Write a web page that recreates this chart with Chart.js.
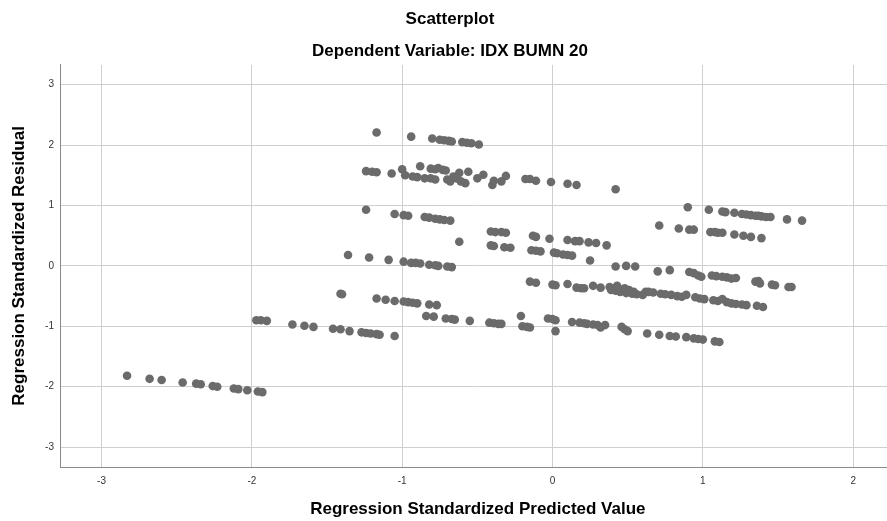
<!DOCTYPE html>
<html>
<head>
<meta charset="utf-8">
<script src="https://cdn.jsdelivr.net/npm/chart.js@4.4.1/dist/chart.umd.min.js"></script>
<style>
    html, body { margin: 0; padding: 0; background: #fff; overflow: hidden; }
    canvas { display: block; }
</style>
</head>
<body>
<canvas id="scatterChart" width="900" height="521"></canvas>
<script>
const chartTitle = 'Scatterplot';
const chartSubtitle = 'Dependent Variable: IDX BUMN 20';
const xTitle = 'Regression Standardized Predicted Value';
const yTitle = 'Regression Standardized Residual';

const xTicks = [-3, -2, -1, 0, 1, 2];
const yTicks = [-3, -2, -1, 0, 1, 2, 3];

// regression standardized predicted value (x) for each case
const predicted = [
    -2.83, -2.68, -2.60, -2.46, -2.37, -2.34, -2.26, -2.23, -2.12, -2.09, -2.03, -1.96, -1.93,
    -1.97, -1.94, -1.90, -1.73, -1.65, -1.59, -1.46, -1.41, -1.35, -1.27, -1.24, -1.21, -1.17, -1.15, -1.05,
    -1.41, -1.40, -1.17, -1.11, -1.05, -0.99, -0.96, -0.93, -0.90, -0.82, -0.77,
    -0.84, -0.79, -0.71, -0.67, -0.65, -0.55, -0.42, -0.39, -0.36, -0.34, -0.21, -0.20, -0.17, -0.15,
    -0.03, 0.00, 0.02, 0.02, 0.13, 0.18, 0.21, 0.23, 0.27, 0.30, 0.32, 0.35, 0.46, 0.48, 0.50,
    0.63, 0.71, 0.78, 0.82, 0.89, 0.94, 0.97, 1.00, 1.08, 1.11,
    -1.36, -1.22, -1.09, -0.99, -0.94, -0.91, -0.88, -0.82, -0.78, -0.76, -0.70, -0.67,
    -1.24, -1.05, -0.99, -0.96, -0.85, -0.82, -0.78, -0.75, -0.72, -0.68,
    -0.62, -0.41, -0.38, -0.34, -0.31, -0.13, -0.11, -0.02, 0.10, 0.15, 0.18, 0.24, 0.29, 0.36,
    -0.41, -0.39, -0.32, -0.28, -0.14, -0.11, -0.08, 0.01, 0.03, 0.07, 0.10, 0.13, 0.25, 0.42, 0.49, 0.55,
    0.70, 0.78, 0.91, 0.94, 0.97, 0.99, 1.06, 1.09, 1.13, 1.16, 1.19, 1.22, 1.35, 1.37, 1.38, 1.46, 1.48, 1.57, 1.59,
    -0.15, -0.11, 0.00, 0.02, 0.10, 0.16, 0.19, 0.21, 0.27, 0.32, 0.38, 0.39, 0.41, 0.42, 0.43, 0.45,
    0.48, 0.49, 0.51, 0.53, 0.54, 0.56, 0.60, 0.62, 0.64, 0.67, 0.72, 0.75, 0.79, 0.83, 0.86, 0.89,
    0.95, 0.98, 1.01, 1.07, 1.10, 1.13, 1.16, 1.19, 1.22, 1.26, 1.29, 1.36, 1.40,
    -1.24, -1.20, -1.17, -1.07, -1.00, -0.98, -0.93, -0.90, -0.85, -0.88, -0.81, -0.78, -0.76, -0.73, -0.71,
    -0.81, -0.78, -0.70, -0.68, -0.66, -0.64, -0.61, -0.58, -0.62, -0.56, -0.50, -0.46, -0.40, -0.39,
    -0.34, -0.31, -0.18, -0.15, -0.11, -0.01, 0.10, 0.16, 0.42,
    -1.17, -0.94, -0.80, -0.75, -0.72, -0.69, -0.67, -0.60, -0.57, -0.54, -0.49,
    0.90, 1.04, 1.13, 1.15, 1.21, 1.26, 1.29, 1.32, 1.35, 1.37, 1.39, 1.42, 1.45, 1.56, 1.66,
    0.71, 0.84, 0.91, 0.94, 1.05, 1.08, 1.10, 1.13, 1.21, 1.27, 1.32, 1.39
];

// regression standardized residual (y), same order
const residual = [
    -1.82, -1.87, -1.89, -1.93, -1.95, -1.96, -1.99, -2.00, -2.03, -2.04, -2.06, -2.08, -2.09,
    -0.90, -0.90, -0.91, -0.97, -0.99, -1.01, -1.04, -1.05, -1.08, -1.10, -1.11, -1.12, -1.13, -1.14, -1.16,
    -0.46, -0.47, -0.54, -0.56, -0.58, -0.59, -0.60, -0.61, -0.62, -0.64, -0.65,
    -0.83, -0.84, -0.87, -0.88, -0.89, -0.91, -0.94, -0.95, -0.96, -0.96, -0.83, -1.00, -1.01, -1.02,
    -0.87, -0.88, -0.90, -1.08, -0.93, -0.94, -0.95, -0.96, -0.97, -0.98, -1.02, -0.98, -1.01, -1.05, -1.08,
    -1.12, -1.14, -1.16, -1.17, -1.18, -1.20, -1.21, -1.22, -1.25, -1.26,
    0.18, 0.14, 0.10, 0.07, 0.05, 0.05, 0.04, 0.02, 0.01, 0.00, -0.01, -0.02,
    0.93, 0.86, 0.84, 0.83, 0.81, 0.80, 0.78, 0.77, 0.76, 0.75,
    0.40, 0.57, 0.56, 0.56, 0.55, 0.50, 0.48, 0.45, 0.43, 0.41, 0.41, 0.39, 0.38, 0.34,
    0.34, 0.33, 0.31, 0.30, 0.26, 0.25, 0.24, 0.22, 0.21, 0.19, 0.18, 0.17, 0.09, -0.01, 0.00, -0.01,
    -0.09, -0.07, -0.10, -0.12, -0.16, -0.18, -0.16, -0.17, -0.18, -0.19, -0.21, -0.20, -0.26, -0.25, -0.29, -0.31, -0.32, -0.35, -0.35,
    -0.26, -0.28, -0.31, -0.32, -0.30, -0.36, -0.37, -0.37, -0.33, -0.36, -0.35, -0.40, -0.37, -0.41, -0.33, -0.43,
    -0.37, -0.45, -0.40, -0.46, -0.43, -0.47, -0.48, -0.43, -0.43, -0.44, -0.46, -0.47, -0.48, -0.50, -0.51, -0.48,
    -0.52, -0.54, -0.55, -0.57, -0.58, -0.55, -0.60, -0.62, -0.63, -0.64, -0.65, -0.66, -0.68,
    1.57, 1.56, 1.55, 1.53, 1.60, 1.50, 1.48, 1.47, 1.45, 1.65, 1.61, 1.60, 1.62, 1.59, 1.58,
    1.45, 1.43, 1.43, 1.40, 1.48, 1.45, 1.40, 1.37, 1.54, 1.56, 1.45, 1.51, 1.34, 1.41,
    1.40, 1.49, 1.44, 1.44, 1.41, 1.39, 1.36, 1.34, 1.27,
    2.21, 2.14, 2.11, 2.09, 2.08, 2.07, 2.06, 2.05, 2.04, 2.03, 2.01,
    0.97, 0.93, 0.90, 0.89, 0.88, 0.86, 0.85, 0.84, 0.83, 0.83, 0.82, 0.81, 0.81, 0.77, 0.75,
    0.67, 0.62, 0.60, 0.60, 0.56, 0.56, 0.55, 0.55, 0.52, 0.50, 0.48, 0.46
];

const FONT = "'Liberation Sans', Arial, Helvetica, sans-serif";

function buildAxis(ticks, min, max, title, opts) {
    return {
        type: 'linear',
        min,
        max,
        bounds: 'data',
        afterBuildTicks: scale => {
            scale.ticks = ticks.map(v => ({ value: v }));
        },
        grid: {
            color: '#cfcfcf',
            lineWidth: 1,
            drawTicks: false
        },
        border: {
            color: '#8a8a8a',
            width: 1
        },
        ticks: {
            color: '#333',
            padding: opts.tickPadding,
            font: { family: FONT, size: 10 }
        },
        title: {
            display: true,
            text: title,
            color: '#000',
            font: { family: FONT, size: 17, weight: 'bold' },
            padding: opts.titlePadding
        },
        afterFit: opts.afterFit
    };
}

function initializeScatter() {
    const ctx = document.getElementById('scatterChart');
    const points = predicted.map((x, i) => ({ x, y: residual[i] }));

    new Chart(ctx, {
        type: 'scatter',
        data: {
            datasets: [{
                data: points,
                backgroundColor: '#6b6b6b',
                borderWidth: 0,
                pointRadius: 4.3,
                pointHoverRadius: 4.3
            }]
        },
        options: {
            responsive: false,
            animation: false,
            layout: { padding: 0 },
            scales: {
                x: buildAxis(xTicks, -3.276, 2.283, xTitle, {
                    tickPadding: 8,
                    titlePadding: { top: 0, bottom: 1 },
                    afterFit: scale => { scale.height = 54; }
                }),
                y: buildAxis(yTicks, -3.33, 3.33, yTitle, {
                    tickPadding: 6,
                    titlePadding: { top: 9, bottom: 0 },
                    afterFit: scale => { scale.width = 60; }
                })
            },
            plugins: {
                legend: { display: false },
                tooltip: { enabled: false },
                title: {
                    display: true,
                    text: chartTitle,
                    color: '#000',
                    font: { family: FONT, size: 17, weight: 'bold' },
                    padding: { top: 9, bottom: 0 }
                },
                subtitle: {
                    display: true,
                    text: chartSubtitle,
                    color: '#000',
                    font: { family: FONT, size: 17, weight: 'bold' },
                    padding: { top: 12, bottom: 3 }
                }
            }
        }
    });
}

initializeScatter();
</script>
</body>
</html>
